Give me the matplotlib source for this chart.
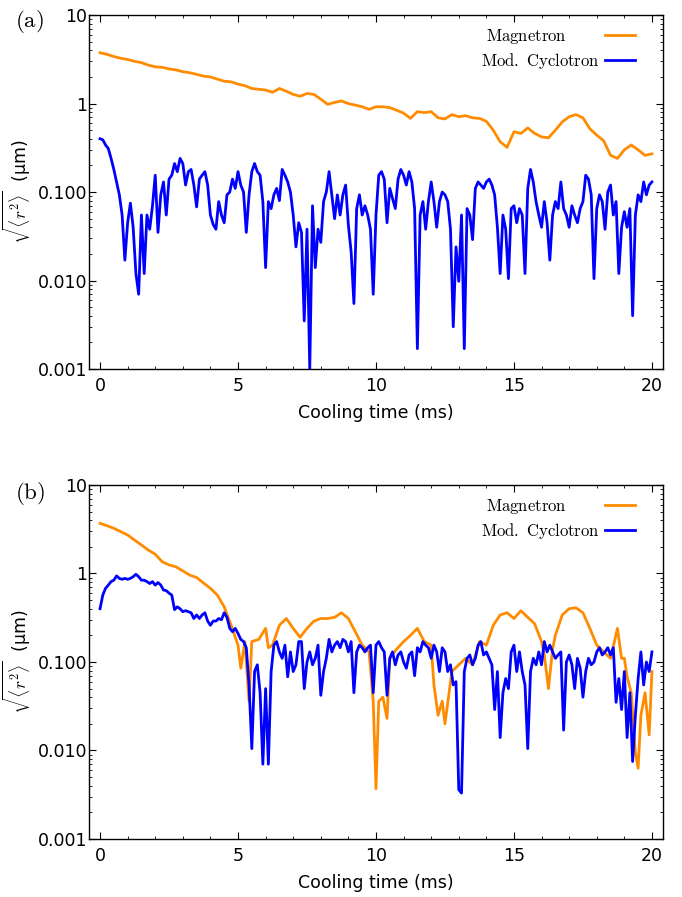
import numpy as np
import matplotlib
matplotlib.use('Agg')
from matplotlib import pyplot as plt
from matplotlib import ticker

# ---------------- data ----------------
# panel (a): magnetron, sampled every 0.25 ms
t_mag_a = [0.0, 0.25, 0.5, 0.75, 1.0, 1.25, 1.5, 1.75, 2.0, 2.25, 2.5, 2.75, 3.0, 3.25, 3.5, 3.75,
           4.0, 4.25, 4.5, 4.75, 5.0, 5.25, 5.5, 5.75, 6.0, 6.25, 6.5, 6.75, 7.0, 7.25, 7.5, 7.75,
           8.0, 8.25, 8.5, 8.75, 9.0, 9.25, 9.5, 9.75, 10.0, 10.25, 10.5, 10.75, 11.0, 11.25, 11.5, 11.75,
           12.0, 12.25, 12.5, 12.75, 13.0, 13.25, 13.5, 13.75, 14.0, 14.25, 14.5, 14.75, 15.0, 15.25, 15.5, 15.75,
           16.0, 16.25, 16.5, 16.75, 17.0, 17.25, 17.5, 17.75, 18.0, 18.25, 18.5, 18.75, 19.0, 19.25, 19.5, 19.75, 20.0]
mag_a = [3.75, 3.6, 3.4, 3.25, 3.15, 3.0, 2.9, 2.72, 2.6, 2.57, 2.46, 2.4, 2.29, 2.23, 2.14, 2.04,
         2.0, 1.89, 1.79, 1.76, 1.66, 1.59, 1.48, 1.45, 1.42, 1.34, 1.48, 1.38, 1.27, 1.21, 1.3, 1.27,
         1.12, 0.98, 1.03, 1.07, 1.0, 0.96, 0.92, 0.86, 0.92, 0.92, 0.9, 0.84, 0.78, 0.68, 0.81, 0.79,
         0.81, 0.69, 0.67, 0.75, 0.71, 0.73, 0.69, 0.68, 0.63, 0.5, 0.37, 0.32, 0.48, 0.46, 0.53, 0.46,
         0.42, 0.41, 0.5, 0.62, 0.71, 0.75, 0.69, 0.52, 0.44, 0.38, 0.26, 0.24, 0.3, 0.34, 0.3, 0.26, 0.27]

# panel (a): modified cyclotron, sampled every 0.1 ms
cyc_a = [0.40, 0.39, 0.34, 0.31, 0.24, 0.18, 0.13, 0.093, 0.055, 0.017,
         0.045, 0.075, 0.04, 0.012, 0.007, 0.055, 0.012, 0.055, 0.038, 0.07,
         0.155, 0.035, 0.093, 0.13, 0.055, 0.14, 0.155, 0.21, 0.17, 0.24,
         0.21, 0.12, 0.17, 0.18, 0.12, 0.068, 0.14, 0.155, 0.17, 0.12,
         0.055, 0.043, 0.038, 0.078, 0.055, 0.045, 0.093, 0.1, 0.14, 0.11,
         0.17, 0.12, 0.1, 0.035, 0.093, 0.17, 0.21, 0.17, 0.155, 0.078,
         0.014, 0.078, 0.065, 0.093, 0.11, 0.08, 0.18, 0.155, 0.13, 0.1,
         0.055, 0.024, 0.045, 0.035, 0.0035, 0.038, 0.001, 0.07, 0.014, 0.038,
         0.027, 0.078, 0.1, 0.17, 0.093, 0.05, 0.093, 0.055, 0.093, 0.12,
         0.042, 0.021, 0.0055, 0.065, 0.093, 0.055, 0.07, 0.055, 0.038, 0.007,
         0.055, 0.155, 0.17, 0.14, 0.045, 0.11, 0.085, 0.065, 0.14, 0.18,
         0.155, 0.12, 0.17, 0.13, 0.065, 0.0017, 0.055, 0.078, 0.038, 0.078,
         0.13, 0.078, 0.04, 0.078, 0.1, 0.093, 0.078, 0.038, 0.003, 0.024,
         0.0098, 0.055, 0.0017, 0.065, 0.055, 0.029, 0.11, 0.13, 0.12, 0.11,
         0.13, 0.14, 0.12, 0.093, 0.04, 0.012, 0.055, 0.038, 0.0105, 0.065,
         0.07, 0.045, 0.065, 0.055, 0.012, 0.11, 0.18, 0.13, 0.078, 0.055,
         0.04, 0.078, 0.045, 0.017, 0.055, 0.078, 0.065, 0.13, 0.065, 0.055,
         0.04, 0.07, 0.055, 0.045, 0.065, 0.078, 0.155, 0.14, 0.093, 0.0105,
         0.065, 0.093, 0.078, 0.038, 0.1, 0.12, 0.055, 0.078, 0.012, 0.04,
         0.06, 0.04, 0.065, 0.004, 0.055, 0.093, 0.078, 0.13, 0.093, 0.12,
         0.13]

# panel (b): magnetron, irregular sampling
t_mag_b = [0.0, 0.25, 0.5, 0.75, 1.0, 1.25, 1.5, 1.75, 2.0, 2.25, 2.5, 2.75, 3.0, 3.25, 3.5, 3.75,
           4.0, 4.25, 4.5, 4.75, 5.0, 5.1, 5.25, 5.4, 5.5, 5.75, 6.0, 6.1, 6.25, 6.5, 6.75, 7.0,
           7.25, 7.5, 7.75, 8.0, 8.25, 8.5, 8.75, 9.0, 9.25, 9.5, 9.75, 9.9, 10.0, 10.1, 10.25, 10.4,
           10.5, 10.75, 11.0, 11.25, 11.5, 11.75, 12.0, 12.1, 12.25, 12.4, 12.5, 12.75, 13.0, 13.25, 13.5, 13.75,
           14.0, 14.25, 14.5, 14.75, 15.0, 15.25, 15.5, 15.75, 16.0, 16.1, 16.25, 16.4, 16.5, 16.75, 17.0, 17.25,
           17.5, 17.75, 18.0, 18.25, 18.5, 18.75, 18.9, 19.0, 19.1, 19.25, 19.4, 19.5, 19.6, 19.75, 19.9, 20.0]
mag_b = [3.69, 3.47, 3.24, 2.97, 2.72, 2.39, 2.1, 1.84, 1.65, 1.36, 1.25, 1.19, 1.07, 0.96, 0.9, 0.78,
         0.68, 0.57, 0.42, 0.26, 0.155, 0.085, 0.17, 0.036, 0.17, 0.18, 0.24, 0.145, 0.155, 0.26, 0.31, 0.24,
         0.19, 0.24, 0.29, 0.31, 0.31, 0.32, 0.36, 0.31, 0.22, 0.155, 0.13, 0.036, 0.0037, 0.036, 0.04, 0.023,
         0.11, 0.14, 0.17, 0.2, 0.24, 0.17, 0.155, 0.055, 0.025, 0.036, 0.02, 0.078, 0.093, 0.11, 0.093, 0.17,
         0.155, 0.26, 0.34, 0.36, 0.31, 0.38, 0.32, 0.27, 0.17, 0.12, 0.05, 0.14, 0.2, 0.34, 0.4, 0.41,
         0.36, 0.24, 0.155, 0.13, 0.11, 0.24, 0.11, 0.11, 0.068, 0.045, 0.0095, 0.0063, 0.025, 0.045, 0.015, 0.078]

# panel (b): modified cyclotron, sampled every 0.1 ms
cyc_b = [0.40, 0.57, 0.68, 0.74, 0.81, 0.84, 0.94, 0.88, 0.86, 0.88,
         0.86, 0.88, 0.92, 0.98, 0.92, 0.84, 0.84, 0.81, 0.77, 0.81,
         0.74, 0.79, 0.74, 0.65, 0.64, 0.6, 0.57, 0.39, 0.42, 0.4,
         0.37, 0.38, 0.37, 0.36, 0.31, 0.34, 0.31, 0.34, 0.36, 0.29,
         0.26, 0.29, 0.29, 0.31, 0.3, 0.36, 0.32, 0.24, 0.22, 0.24,
         0.21, 0.18, 0.17, 0.145, 0.055, 0.0105, 0.078, 0.093, 0.045, 0.007,
         0.05, 0.007, 0.078, 0.155, 0.17, 0.13, 0.11, 0.155, 0.068, 0.13,
         0.078, 0.093, 0.17, 0.17, 0.05, 0.1, 0.13, 0.093, 0.11, 0.155,
         0.042, 0.078, 0.11, 0.18, 0.13, 0.155, 0.17, 0.145, 0.18, 0.17,
         0.13, 0.17, 0.045, 0.13, 0.155, 0.145, 0.13, 0.145, 0.155, 0.045,
         0.155, 0.17, 0.145, 0.13, 0.042, 0.11, 0.13, 0.093, 0.12, 0.13,
         0.1, 0.085, 0.12, 0.13, 0.07, 0.145, 0.13, 0.17, 0.155, 0.145,
         0.11, 0.155, 0.13, 0.078, 0.145, 0.13, 0.078, 0.093, 0.055, 0.06,
         0.0036, 0.0033, 0.078, 0.11, 0.12, 0.093, 0.11, 0.155, 0.17, 0.12,
         0.13, 0.11, 0.093, 0.029, 0.078, 0.014, 0.045, 0.065, 0.05, 0.13,
         0.155, 0.078, 0.13, 0.078, 0.055, 0.0105, 0.078, 0.11, 0.093, 0.13,
         0.093, 0.17, 0.13, 0.155, 0.13, 0.11, 0.12, 0.13, 0.017, 0.1,
         0.12, 0.093, 0.05, 0.11, 0.085, 0.04, 0.078, 0.11, 0.093, 0.1,
         0.13, 0.145, 0.12, 0.13, 0.145, 0.12, 0.145, 0.035, 0.065, 0.029,
         0.078, 0.014, 0.045, 0.0075, 0.025, 0.065, 0.13, 0.055, 0.1, 0.078,
         0.13]

t_cyc = np.round(np.arange(len(cyc_a)) * 0.1, 2)

ytick_vals = [0.001, 0.01, 0.1, 1, 10]
ytick_text = ['0.001', '0.010', '0.100', '1', '10']

ORANGE = '#ff8c00'
BLUE = '#0000ff'

plt.rcParams['mathtext.fontset'] = 'cm'
plt.rcParams['font.family'] = 'DejaVu Sans'

# the magnetron label sits further left than the cyclotron one in the original
LBL_MAG = r'$\mathrm{Magnetron}$' + '\u2003\u2003\u2002'
LBL_CYC = r'$\mathrm{Mod.\ Cyclotron}$'


def style_axes(ax):
    ax.set_yscale('log')
    ax.set_xlim(-0.4, 20.4)
    ax.set_ylim(0.001, 10)
    ax.set_xticks([0, 5, 10, 15, 20])
    ax.xaxis.set_minor_locator(ticker.MultipleLocator(1))
    ax.set_yticks(ytick_vals)
    ax.set_yticklabels(ytick_text)
    ax.yaxis.set_minor_locator(ticker.LogLocator(base=10, subs=np.arange(2, 10)))
    ax.yaxis.set_minor_formatter(ticker.NullFormatter())
    ax.tick_params(which='both', direction='in', top=True, right=True, labelsize=12.5)
    ax.tick_params(axis='x', which='major', pad=5.5)
    ax.tick_params(axis='y', which='major', pad=1.5)
    ax.tick_params(which='major', length=5, width=0.8)
    ax.tick_params(which='minor', length=2.5, width=0.6)
    for sp in ax.spines.values():
        sp.set_linewidth(1.0)
    ax.set_xlabel('Cooling time (ms)', fontsize=12.5, labelpad=7)
    ax.set_ylabel(r'$\sqrt{\langle r^2\rangle}$  (µm)', fontsize=12.5, labelpad=3)
    ax.legend(loc='upper right', bbox_to_anchor=(0.963, 0.985), frameon=False,
              markerfirst=False, fontsize=12, handlelength=1.8,
              borderaxespad=0.0, labelspacing=0.3, handletextpad=0.3)


fig = plt.figure(figsize=(6.82, 8.97), dpi=100)
ax1 = fig.add_axes([0.1305, 0.5886, 0.8416, 0.3946])
ax2 = fig.add_axes([0.1305, 0.0647, 0.8416, 0.3946])

ax1.plot(t_mag_a, mag_a, color=ORANGE, lw=2.0, label=LBL_MAG)
ax1.plot(t_cyc, cyc_a, color=BLUE, lw=2.0, label=LBL_CYC)
style_axes(ax1)

ax2.plot(t_mag_b, mag_b, color=ORANGE, lw=2.0, label=LBL_MAG)
ax2.plot(t_cyc, cyc_b, color=BLUE, lw=2.0, label=LBL_CYC)
style_axes(ax2)

fig.text(0.022, 0.976, r'$\mathrm{(a)}$', fontsize=16.5, va='center')
fig.text(0.022, 0.450, r'$\mathrm{(b)}$', fontsize=16.5, va='center')

fig.savefig('out.png', dpi=100)
